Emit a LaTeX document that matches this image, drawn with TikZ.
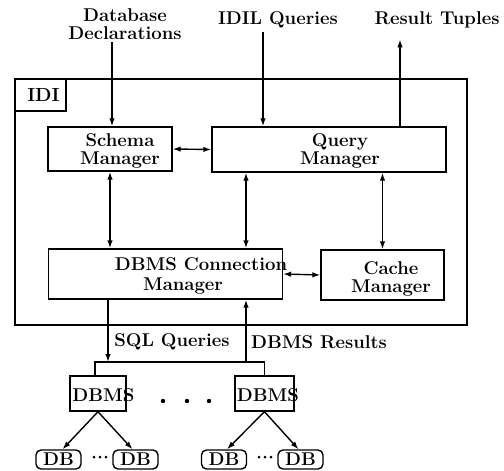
\documentclass[tikz,border=0pt]{standalone}
\usetikzlibrary{arrows.meta,calc}
\begin{document}
\begin{tikzpicture}[x=1pt,y=-1pt]
\tikzset{
  lbl/.style={font=\fontsize{18.5}{17.5}\selectfont\bfseries, inner sep=1pt, align=center},
  boxx/.style={draw, line width=1.4pt, inner sep=0pt},
  dbbox/.style={draw, line width=1.4pt, inner sep=0pt, rounded corners=5pt, minimum width=45pt, minimum height=19pt, font=\fontsize{18.5}{17}\selectfont\bfseries},
  plain/.style={line width=1.4pt},
  arr/.style={line width=1.4pt, -{Latex[length=8pt,width=5.5pt]}},
  darr/.style={line width=1.4pt, {Latex[length=8pt,width=5.5pt]}-{Latex[length=8pt,width=5.5pt]}},
  dotmark/.style={fill=black}
}
\useasboundingbox (0,0) rectangle (504,471);
% outer IDI box
\node[boxx, line width=1.6pt, minimum width=452pt, minimum height=246pt] (idi) at (241,202) {};
\node[boxx, minimum width=51pt, minimum height=32pt, anchor=north west, font=\fontsize{19}{17}\selectfont\bfseries] (idilab) at (idi.north west) {\hspace*{6pt}IDI};
% manager boxes
\node[boxx, minimum width=124pt, minimum height=44pt] (schema) at (110,149) {};
\node[lbl] (schematext) at (120,151) {Schema\\Manager};
\node[boxx, minimum width=234pt, minimum height=45pt] (query) at (329,149.5) {};
\node[lbl] (querytext) at (340,151) {Query\\Manager};
\node[boxx, minimum width=234pt, minimum height=50pt] (conn) at (165.5,274) {};
\node[lbl] (conntexta) at (201,264) {DBMS Connection};
\node[lbl] (conntextb) at (183,286) {Manager};
\node[boxx, minimum width=123pt, minimum height=50pt] (cache) at (382.5,275) {};
\node[lbl, font=\fontsize{18.5}{18}\selectfont\bfseries] (cachetext) at (391,279) {Cache\\Manager};
% external labels
\node[lbl] (dd) at (125,24) {Database\\Declarations};
\node[lbl] (idil) at (278,20) {IDIL Queries};
\node[lbl] (rt) at (437,20) {Result Tuples};
% x positions
\coordinate (xa) at (112,0);
\coordinate (xb) at (263,0);
\coordinate (xc) at (400,0);
\coordinate (xd) at (246,0);
\coordinate (xe) at (108,0);
% top arrows
\draw[arr, shorten <=2pt] (dd.south -| xa) -- (schema.north -| xa);
\draw[arr, shorten <=3pt] (idil.south -| xb) -- (query.north -| xb);
\draw[arr, shorten >=10pt] (query.north -| xc) -- (rt.south -| xc);
% internal arrows
\draw[darr] (schema.east) -- (query.west);
\draw[darr] (schema.south) -- (schema.south |- conn.north);
\draw[darr] (query.south -| xd) -- (conn.north -| xd);
\draw[darr] (cache.north |- query.south) -- (cache.north);
\draw[darr] (conn.east) -- (cache.west);
% DBMS boxes
\node[boxx, minimum width=56pt, minimum height=35pt] (d1) at (98,393.5) {};
\node[lbl] (d1text) at (103.5,395) {DBMS};
\node[boxx, minimum width=59pt, minimum height=35pt] (d2) at (264.5,393.5) {};
\node[lbl] (d2text) at (268,395) {DBMS};
\coordinate (bus) at (180,362);
\draw[plain] ([xshift=-3pt]d1.north) |- (bus) -| (d2.north);
\draw[arr] (conn.south -| xe) -- (bus -| xe);
\draw[arr] (bus -| xd) -- (conn.south -| xd);
\node[lbl] (sql) at (172,342) {SQL Queries};
\node[lbl] (res) at (319,342) {DBMS Results};
% dots between DBMS
\fill[dotmark] (163,401) circle (2.2pt);
\fill[dotmark] (187,401) circle (2.2pt);
\fill[dotmark] (209,401) circle (2.2pt);
% DB boxes
\node[dbbox] (db1) at (58.5,459.5) {DB};
\node[dbbox] (db2) at (135.5,459.5) {DB};
\node[dbbox] (db3) at (224,459.5) {DB};
\node[dbbox] (db4) at (300.5,459.5) {DB};
\draw[arr] (d1.south) -- ([xshift=4pt]db1.north);
\draw[arr] (d1.south) -- ([xshift=-3pt]db2.north);
\draw[arr] (d2.south) -- ([xshift=3pt]db3.north);
\draw[arr] (d2.south) -- ([xshift=-2pt]db4.north);
\fill[dotmark] (94,457) circle (1.5pt);
\fill[dotmark] (100,457) circle (1.5pt);
\fill[dotmark] (106,457) circle (1.5pt);
\fill[dotmark] (259,457) circle (1.5pt);
\fill[dotmark] (265,457) circle (1.5pt);
\fill[dotmark] (271,457) circle (1.5pt);
\end{tikzpicture}
\end{document}
